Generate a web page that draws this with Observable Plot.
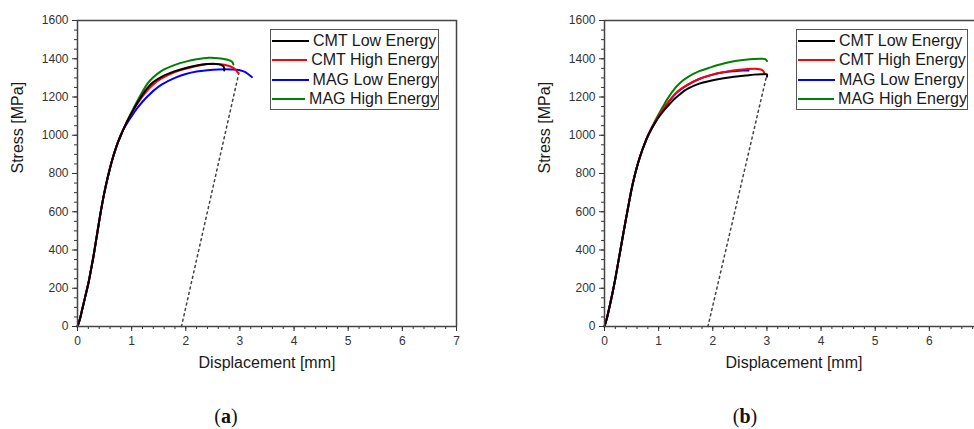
<!DOCTYPE html>
<html>
<head>
<meta charset="utf-8">
<script src="https://cdn.jsdelivr.net/npm/d3@7"></script>
<script src="https://cdn.jsdelivr.net/npm/@observablehq/plot@0.6"></script>
<style>
  html, body { margin: 0; padding: 0; background: #fff; }
  #wrap { position: relative; width: 974px; height: 429px; overflow: hidden; font-family: "Liberation Sans", Arial, sans-serif; }
  .panel { position: absolute; top: 0; width: 487px; height: 429px; }
  .panel svg { max-width: none !important; }
  .legend { position: absolute; border: 1.5px solid #555; background: #fff; box-sizing: border-box; padding-top: 1px; }
  .legend .row { display: flex; align-items: center; height: 19.5px; }
  .legend .sw { width: 37px; height: 0; border-top: 2.2px solid; margin-left: 1px; margin-right: 4px; }
  .legend .lab { font-size: 16px; color: #1a1a1a; white-space: nowrap; }
  .cap { position: absolute; top: 405px; font-family: "Liberation Serif", "DejaVu Serif", serif; font-size: 20px; color: #111; transform: translateX(-50%); }
</style>
</head>
<body>
<div id="wrap"></div>
<script>
// ---- data ----
const seriesNames = ["CMT Low Energy", "CMT High Energy", "MAG Low Energy", "MAG High Energy"];
const seriesColors = ["#000000", "#ff0000", "#0000ff", "#008000"];
const xTicksA = [0, 1, 2, 3, 4, 5, 6, 7];
const xTicksB = [0, 1, 2, 3, 4, 5, 6];   // 7 lies beyond the cropped right edge
const yTicks = [0, 200, 400, 600, 800, 1000, 1200, 1400, 1600];

// panel (a): [displacement mm, stress MPa]
const aCommon = [[0,0],[0.05,45],[0.1,105],[0.15,165],[0.2,225],[0.25,298],[0.3,375],[0.35,462],[0.4,550],[0.45,632],[0.5,705],[0.55,770],[0.6,828],[0.65,880],[0.7,925],[0.75,965],[0.8,1000],[0.85,1032]];
const aCmtLow = [[0.9,1062],[0.95,1090],[1.0,1117],[1.1,1167],[1.2,1212],[1.3,1250],[1.4,1278],[1.56,1307],[1.8,1335],[2.0,1352],[2.2,1365],[2.4,1372],[2.55,1373],[2.65,1368],[2.7,1358],[2.71,1338]];
const aCmtHigh = [[0.9,1062],[0.95,1090],[1.0,1115],[1.1,1162],[1.2,1203],[1.3,1238],[1.4,1266],[1.56,1298],[1.8,1330],[2.0,1348],[2.2,1362],[2.42,1372],[2.6,1372],[2.75,1366],[2.88,1352],[2.97,1325]];
const aMagLow = [[0.9,1055],[0.95,1078],[1.0,1100],[1.1,1140],[1.2,1175],[1.3,1205],[1.4,1232],[1.56,1266],[1.8,1300],[2.0,1320],[2.2,1333],[2.4,1340],[2.6,1344],[2.86,1344],[3.0,1340],[3.1,1330],[3.22,1304]];
const aMagHigh = [[0.9,1064],[0.95,1093],[1.0,1122],[1.1,1177],[1.2,1228],[1.3,1272],[1.4,1303],[1.5,1326],[1.6,1344],[1.8,1368],[2.0,1385],[2.2,1397],[2.42,1405],[2.6,1403],[2.75,1396],[2.85,1386],[2.88,1370]];
const aOffset = [[1.92,0],[2.98,1325]];

// panel (b)
const bCommon = [[0,0],[0.05,50],[0.1,112],[0.15,178],[0.2,250],[0.25,330],[0.3,410],[0.35,490],[0.4,568],[0.45,644],[0.5,718],[0.55,780],[0.6,835],[0.65,882],[0.7,924],[0.75,962],[0.8,996]];
const bCmtLow = [[0.85,1024],[0.9,1049],[0.95,1072],[1.0,1094],[1.08,1124],[1.16,1150],[1.3,1192],[1.4,1216],[1.53,1242],[1.75,1270],[1.96,1285],[2.2,1298],[2.39,1306],[2.6,1312],[2.76,1317],[2.9,1319],[3.0,1318],[3.0,1306]];
const bCmtHigh = [[0.85,1025],[0.9,1052],[0.95,1077],[1.0,1100],[1.08,1135],[1.16,1167],[1.3,1215],[1.4,1240],[1.53,1264],[1.75,1295],[2.0,1318],[2.2,1330],[2.4,1340],[2.6,1345],[2.83,1347],[2.92,1340],[2.96,1320]];
const bMagLow = [[0.85,1024],[0.9,1050],[0.95,1075],[1.0,1098],[1.08,1133],[1.16,1165],[1.3,1213],[1.4,1238],[1.53,1262],[1.75,1294],[2.0,1317],[2.2,1329],[2.4,1335],[2.55,1338],[2.66,1338]];
const bMagHigh = [[0.85,1027],[0.9,1056],[0.95,1084],[1.0,1110],[1.08,1150],[1.16,1189],[1.3,1245],[1.4,1275],[1.53,1303],[1.75,1335],[1.96,1355],[2.2,1375],[2.39,1387],[2.6,1395],[2.76,1399],[2.9,1400],[2.97,1398],[3.0,1388]];
const bOffset = [[1.91,0],[3.0,1318]];

const panels = [
  {left: 0, cap: "a", capX: 226, legendLeft: 270, legendWidth: 169, xTicks: xTicksA, common: aCommon, curves: [aCmtLow, aCmtHigh, aMagLow, aMagHigh], offset: aOffset},
  {left: 526.5, cap: "b", capX: 745, legendLeft: 796, legendWidth: 172, xTicks: xTicksB, common: bCommon, curves: [bCmtLow, bCmtHigh, bMagLow, bMagHigh], offset: bOffset}
];

const wrap = document.getElementById("wrap");
const xMinor = d3.range(0, 7.001, 0.2).map(v => +v.toFixed(1));
const yMinor = d3.range(0, 1601, 50);

for (const p of panels) {
  const rows = [];
  p.curves.forEach((c, i) => {
    p.common.concat(c).forEach(([x, y]) => rows.push({series: seriesNames[i], x, y}));
  });
  const order = [3, 2, 1, 0];
  const lineMarks = order.map(i => Plot.line(rows.filter(r => r.series === seriesNames[i]), {
    x: "x", y: "y", stroke: seriesColors[i], strokeWidth: 2, curve: "catmull-rom"
  }));
  const off = p.offset.map(([x, y]) => ({x, y}));

  const chart = Plot.plot({
    width: 487, height: 429,
    marginLeft: 77, marginRight: 31, marginTop: 20, marginBottom: 103,
    x: {domain: [0, 7]},
    y: {domain: [0, 1600]},
    style: {fontFamily: "'Liberation Sans', Arial, sans-serif", fontSize: "12px", color: "#333", background: "transparent", overflow: "visible"},
    marks: [
      Plot.axisX({ticks: xMinor, tickSize: 3, tickFormat: () => "", label: null}),
      Plot.axisY({ticks: yMinor, tickSize: 3, tickFormat: () => "", label: null}),
      Plot.axisX({ticks: p.xTicks, tickSize: 5, tickPadding: 5, label: null, tickFormat: d3.format("d")}),
      Plot.axisY({ticks: yTicks, tickSize: 5, tickPadding: 4, label: null, tickFormat: d3.format("d")}),
      Plot.line(off, {x: "x", y: "y", stroke: "#444", strokeWidth: 1.5, strokeDasharray: "2,3.5"}),
      ...lineMarks,
      Plot.frame({stroke: "#444", strokeWidth: 1.5}),
      Plot.text(["Stress [MPa]"], {frameAnchor: "left", dx: -60, rotate: -90, fontSize: 16, fill: "#1a1a1a"}),
      Plot.text(["Displacement [mm]"], {frameAnchor: "bottom", dy: 41, fontSize: 16, fill: "#1a1a1a"})
    ]
  });
  const holder = document.createElement("div");
  holder.className = "panel";
  holder.style.left = p.left + "px";
  holder.appendChild(chart);
  wrap.appendChild(holder);

  const leg = document.createElement("div");
  leg.className = "legend";
  leg.style.left = p.legendLeft + "px";
  leg.style.top = "29px";
  leg.style.width = p.legendWidth + "px";
  leg.style.height = "81px";
  seriesNames.forEach((n, i) => {
    const r = document.createElement("div");
    r.className = "row";
    const sw = document.createElement("div");
    sw.className = "sw";
    sw.style.borderTopColor = seriesColors[i];
    const lab = document.createElement("span");
    lab.className = "lab";
    lab.textContent = n;
    r.appendChild(sw); r.appendChild(lab);
    leg.appendChild(r);
  });
  wrap.appendChild(leg);

  const cap = document.createElement("div");
  cap.className = "cap";
  cap.style.left = p.capX + "px";
  cap.innerHTML = "(<b>" + p.cap + "</b>)";
  wrap.appendChild(cap);
}
</script>
</body>
</html>
